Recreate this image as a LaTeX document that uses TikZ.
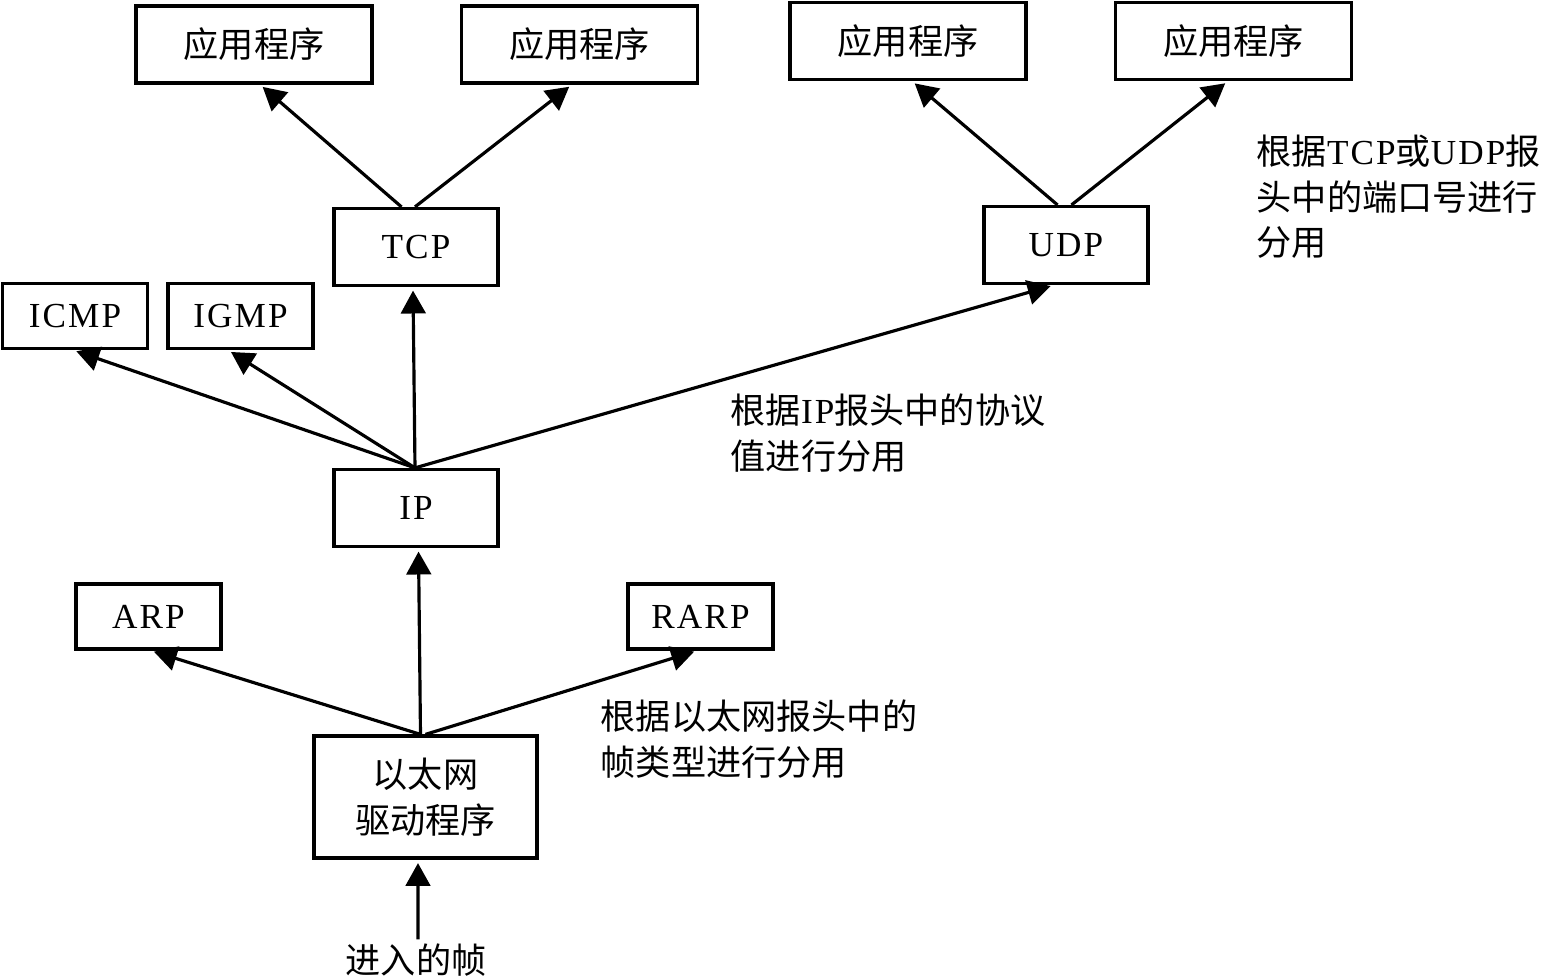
\documentclass[tikz,border=0pt]{standalone}
\usepackage{fontspec}
\setmainfont[LetterSpace=6]{Liberation Serif}
\newfontfamily\cjk{Noto Sans CJK SC}
\newcommand{\zh}[1]{{\cjk #1}}
\usetikzlibrary{arrows.meta, positioning, calc}
\tikzset{every node/.style={font=\fontsize{10pt}{13pt}\selectfont}}

\begin{document}
\begin{tikzpicture}[
        x=0.01cm, y=-0.01cm,
        >={Triangle[length=6.5pt, width=7pt]},
        layer/.style={draw, line width=0.9pt, inner sep=0pt, align=center},
        appbox/.style={layer, minimum width=2.36cm, minimum height=0.77cm},
        protobox/.style={layer, minimum width=1.64cm, minimum height=0.77cm},
        smallbox/.style={layer, minimum width=1.45cm, minimum height=0.65cm},
        note/.style={anchor=west, align=left, inner sep=0pt},
        link/.style={->, line width=0.9pt, shorten >=1pt},
      ]
        \useasboundingbox (0,0) rectangle (1541,976);
        \node[appbox] (app1) at (254,44.5) {\zh{应用程序}};
        \node[appbox] (app2) at (579.5,44.5) {\zh{应用程序}};
        \node[appbox] (app3) at (908,41) {\zh{应用程序}};
        \node[appbox] (app4) at (1233.5,41) {\zh{应用程序}};
        \node[protobox] (tcp) at (416,247) {TCP};
        \node[protobox] (udp) at (1066,245) {UDP};
        \node[smallbox] (icmp) at (75,316) {ICMP};
        \node[smallbox] (igmp) at (240.5,316) {IGMP};
        \node[protobox] (ip) at (416,508) {IP};
        \node[smallbox] (arp) at (148.5,616.5) {ARP};
        \node[smallbox] (rarp) at (700.5,616.5) {RARP};
        \node[layer, minimum width=2.23cm, minimum height=1.22cm] (eth) at (425.5,797) {\zh{以太网}\\\zh{驱动程序}};
        \node[inner sep=1pt] (frame) at (416,960) {\zh{进入的帧}};
        \node[note] (tcpnote) at (1256,197) {\zh{根据}TCP\zh{或}UDP\zh{报}\\\zh{头中的端口号进行}\\\zh{分用}};
        \node[note] (ipnote) at (730,433) {\zh{根据}IP\zh{报头中的协议}\\\zh{值进行分用}};
        \node[note] (ethnote) at (600,739) {\zh{根据以太网报头中的}\\\zh{帧类型进行分用}};
        \draw[link] ([xshift=-0.145cm]tcp.north) -- ([xshift=0.06cm]app1.south);
        \draw[link] ([xshift=-0.01cm]tcp.north) -- ([xshift=-0.075cm]app2.south);
        \draw[link] ([xshift=-0.085cm]udp.north) -- ([xshift=0.04cm]app3.south);
        \draw[link] ([xshift=0.055cm]udp.north) -- ([xshift=-0.055cm]app4.south);
        \draw[link] ([xshift=-0.01cm]ip.north) -- ([xshift=-0.02cm]icmp.south);
        \draw[link] ([xshift=-0.01cm]ip.north) -- ([xshift=-0.125cm]igmp.south);
        \draw[link] ([xshift=-0.01cm]ip.north) -- ([xshift=-0.03cm]tcp.south);
        \draw[link] ([xshift=-0.01cm]ip.north) -- ([xshift=-0.12cm]udp.south);
        \draw[link] ([xshift=-0.05cm]eth.north) -- ([xshift=0.02cm]arp.south);
        \draw[link] ([xshift=-0.05cm]eth.north) -- ([xshift=0.025cm]ip.south);
        \draw[link] (eth.north) -- ([xshift=-0.03cm]rarp.south);
        \draw[link] ([xshift=0.02cm]frame.north) -- ([xshift=-0.075cm]eth.south);
      \end{tikzpicture}
\end{document}
